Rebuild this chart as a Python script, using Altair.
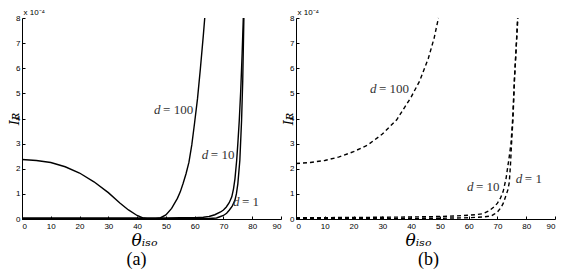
import altair as alt
import pandas as pd

# ---- data (I_R in units of 1e-4) ----
x_ticks = [0, 10, 20, 30, 40, 50, 60, 70, 80, 90]
y_ticks = [0, 1, 2, 3, 4, 5, 6, 7, 8]

a100_x = [0, 5, 10, 15, 20, 25, 30, 34, 37, 40, 42, 44, 46, 48, 50, 52, 54, 55, 56, 57, 58, 59, 60, 61, 62, 63, 63.5]
a100_y = [2.37, 2.33, 2.25, 2.08, 1.83, 1.48, 1.05, 0.64, 0.36, 0.14, 0.04, 0.005, 0.0, 0.04, 0.16, 0.42, 0.82, 1.08, 1.42, 1.8, 2.25, 2.95, 3.85, 4.8, 6.0, 7.3, 8.0]

a10_x = [0, 20, 40, 50, 55, 60, 63, 65, 67, 69, 70, 71, 72, 72.9, 73.5, 74, 74.6, 75, 75.5, 76, 76.5, 76.9]
a10_y = [0.04, 0.04, 0.04, 0.04, 0.05, 0.05, 0.07, 0.1, 0.17, 0.28, 0.36, 0.48, 0.65, 0.88, 1.2, 1.6, 2.34, 3.0, 3.92, 5.1, 6.6, 8.0]

a1_x = [0, 30, 60, 65, 67.6, 69, 70, 71.1, 72, 73, 74, 74.5, 75, 75.7, 76.3, 76.7, 77.1]
a1_y = [0.01, 0.01, 0.01, 0.02, 0.04, 0.1, 0.14, 0.23, 0.35, 0.5, 0.75, 1.0, 1.4, 2.34, 3.92, 5.5, 8.0]

b100_x = [0, 5, 10, 15, 20, 25, 30, 35, 40, 43, 46, 48, 49.5]
b100_y = [2.21, 2.25, 2.33, 2.47, 2.68, 2.95, 3.38, 3.95, 4.85, 5.5, 6.4, 7.2, 8.0]

b10_x = [0, 20, 40, 50, 55, 60, 63, 65, 67, 69, 70, 71, 72, 73, 74, 74.7, 75.3, 75.9, 76.5, 77]
b10_y = [0.05, 0.06, 0.08, 0.1, 0.12, 0.15, 0.18, 0.21, 0.32, 0.5, 0.63, 0.82, 1.1, 1.62, 2.4, 3.0, 4.0, 5.6, 6.8, 8.0]

b1_x = [0, 30, 50, 60, 65, 67.8, 69, 70, 71.2, 72, 73, 73.6, 74.1, 74.5, 74.9, 75.4, 75.95, 76.55, 77.1]
b1_y = [0.02, 0.02, 0.03, 0.05, 0.08, 0.12, 0.2, 0.28, 0.45, 0.62, 0.95, 1.15, 1.45, 2.1, 3.0, 4.0, 5.6, 6.9, 8.0]

label_text = ["= 100", "= 10", "= 1"]
a_label_x = [45.9, 62.5, 73.3]
a_label_y = [4.32, 2.53, 0.67]
b_label_x = [25.7, 59.4, 76.4]
b_label_y = [5.18, 1.27, 1.59]


def series_df(pairs):
    rows = []
    for name, xs, ys in pairs:
        for xv, yv in zip(xs, ys):
            rows.append({"d": name, "theta": xv, "I": yv})
    return pd.DataFrame(rows)


df_a = series_df([("100", a100_x, a100_y), ("10", a10_x, a10_y), ("1", a1_x, a1_y)])
df_b = series_df([("100", b100_x, b100_y), ("10", b10_x, b10_y), ("1", b1_x, b1_y)])
lab_a = pd.DataFrame({"theta": a_label_x, "I": a_label_y, "t": label_text})
lab_b = pd.DataFrame({"theta": b_label_x, "I": b_label_y, "t": label_text})

W, H = 259, 201
SANS = "Liberation Sans"
SERIF = "Liberation Serif"
TXT = "#333333"


def panel(df, labs, dashed, letter, letter_dx):
    xs = alt.Scale(domain=[0, 90], nice=False)
    ys = alt.Scale(domain=[0, 8], nice=False)

    line_kw = dict(color="black", strokeWidth=1.4)
    if dashed:
        line_kw["strokeDash"] = [4, 3]
    lines = alt.Chart(df).mark_line(**line_kw).encode(
        x=alt.X("theta:Q", scale=xs, axis=alt.Axis(
            values=x_ticks, tickSize=0, labelPadding=3, labelFont=SANS, labelFontSize=8,
            labelColor="black", domainColor="black", domainWidth=1, grid=False,
            title="θᵢₛₒ", titleFont="DejaVu Serif", titleFontStyle="italic",
            titleFontWeight="normal", titleFontSize=17, titleColor="black",
            titleX=122, titleY=26, titleBaseline="alphabetic", titleAlign="center")),
        y=alt.Y("I:Q", scale=ys, axis=alt.Axis(
            values=y_ticks, tickSize=0, labelPadding=2, labelFont=SANS, labelFontSize=8,
            labelColor="black", domainColor="black", domainWidth=1, grid=False,
            title="Iʀ", titleFont="DejaVu Serif", titleFontStyle="italic",
            titleFontWeight="normal", titleFontSize=13, titleColor="black",
            titleX=-8, titleY=H / 2, titleBaseline="middle", titleAngle=270)),
        detail="d:N",
    )

    ticks = alt.Chart(df).mark_line(opacity=0).encode(
        x=alt.X("theta:Q", scale=xs, axis=alt.Axis(
            values=x_ticks, orient="bottom", offset=-3, tickSize=3, tickColor="black",
            labels=False, domain=False, grid=False, title=None)),
        y=alt.Y("I:Q", scale=ys, axis=alt.Axis(
            values=y_ticks, orient="left", offset=-3, tickSize=3, tickColor="black",
            labels=False, domain=False, grid=False,
            title="x 10⁻⁴", titleAngle=0, titleX=-2, titleY=-4, titleAlign="left",
            titleBaseline="alphabetic", titleFont=SANS, titleFontSize=8,
            titleFontWeight="normal", titleColor="black")),
        detail="d:N",
    )

    d_txt = alt.Chart(labs).mark_text(
        font=SERIF, fontStyle="italic", fontSize=13, align="left", baseline="middle",
        color=TXT).encode(
        x=alt.X("theta:Q", scale=xs, axis=None),
        y=alt.Y("I:Q", scale=ys, axis=None),
        text=alt.value("d"),
    )
    rest_txt = alt.Chart(labs).mark_text(
        font=SERIF, fontSize=13, align="left", baseline="middle", dx=9,
        color=TXT).encode(
        x=alt.X("theta:Q", scale=xs, axis=None),
        y=alt.Y("I:Q", scale=ys, axis=None),
        text="t:N",
    )

    return alt.layer(lines, ticks, d_txt, rest_txt).resolve_scale(
        x="shared", y="shared").resolve_axis(x="independent", y="independent").properties(
        width=W, height=H,
        title=alt.TitleParams(letter, orient="bottom", anchor="middle", font=SERIF,
                              fontSize=18, fontWeight="normal", color="black",
                              dx=letter_dx, offset=3))


pa = panel(df_a, lab_a, False, "(a)", -15)
pb = panel(df_b, lab_b, True, "(b)", 3)

chart = alt.hconcat(pa, pb, spacing=0).properties(padding=0).configure_view(stroke=None)

chart.save("out.html", embed_options={"renderer": "svg", "actions": False})
